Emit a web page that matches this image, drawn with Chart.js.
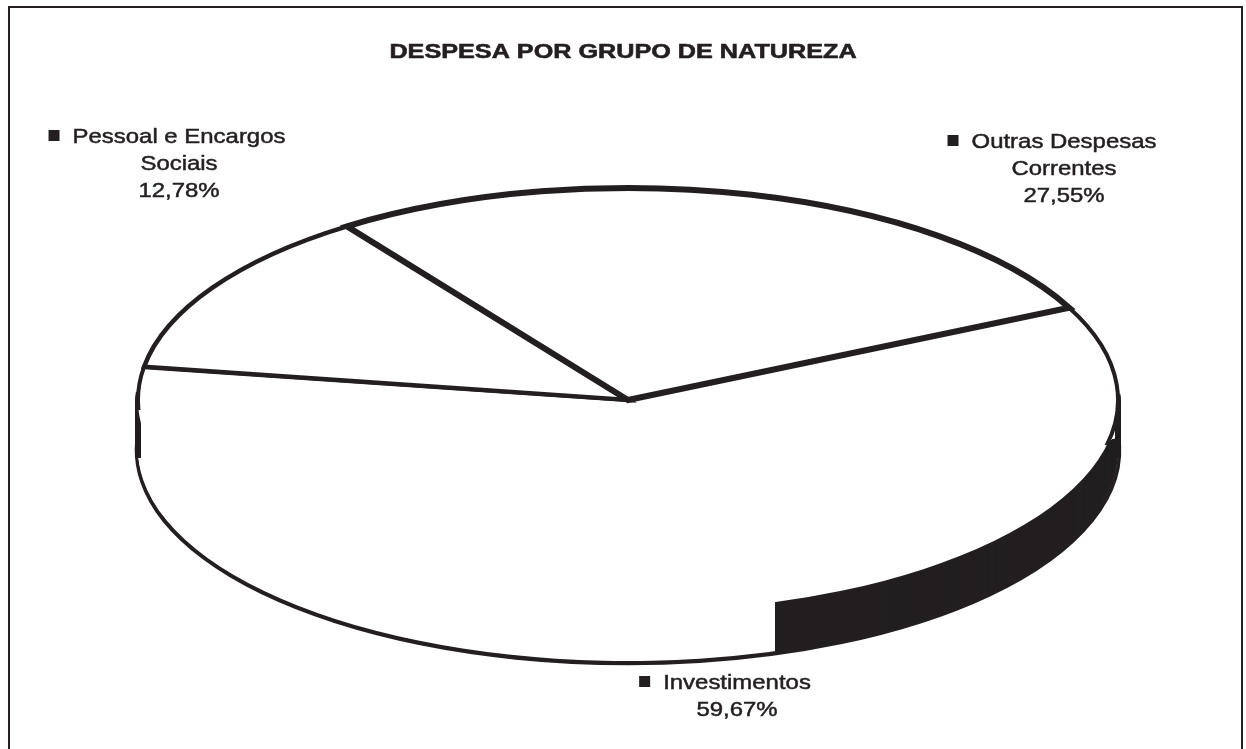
<!DOCTYPE html>
<html><head><meta charset="utf-8">
<script src="https://cdn.jsdelivr.net/npm/chart.js@4/dist/chart.umd.min.js"></script>
<style>html,body{margin:0;padding:0;background:#fff;overflow:hidden}</style>
</head><body>
<canvas id="c" width="1246" height="749"></canvas>
<script>
// ---- data ----
const TITLE = 'DESPESA POR GRUPO DE NATUREZA';
const categories = [['Pessoal e Encargos', 'Sociais'], ['Outras Despesas', 'Correntes'], ['Investimentos']];
const values = [12.78, 27.55, 59.67];

// ---- style / layout ----
const INK = '#231f20';
const FONT = '"Liberation Sans", Arial, sans-serif';
const GEOM = { cx: 628, cy: 400, rx: 490, ry: 212, depth: 50 };
const LABEL_POS = [[179, 143], [1064, 148], [737, 689]];
const LINE_H = 27;
const HS_LABEL = 1.14, HS_TITLE = 1.2;

function fmtPct(v) { return v.toFixed(2).replace('.', ',') + '%'; }

const pie3d = {
  id: 'pie3d',
  beforeDraw(chart) {
    const ctx = chart.ctx;
    ctx.save();
    ctx.fillStyle = '#fff';
    ctx.fillRect(0, 0, chart.width, chart.height);
    ctx.strokeStyle = INK;
    ctx.lineWidth = 2;
    ctx.strokeRect(9, 7, 1233, 800);
    ctx.restore();
  },
  beforeDatasetsDraw(chart) {
    const ctx = chart.ctx;
    const arcs = chart.getDatasetMeta(0).data;
    const a0 = arcs[0];
    const R = a0.outerRadius, cx = a0.x, cy = a0.y;
    const sx = GEOM.rx / R, sy = GEOM.ry / R;
    // stroke in device space so line widths stay uniform on the squashed ellipse
    const protoStroke = CanvasRenderingContext2D.prototype.stroke;
    ctx.stroke = function () {
      this.save(); this.setTransform(1, 0, 0, 1, 0, 0); protoStroke.call(this); this.restore();
    };
    const layer = (off, idxs, over, clip) => {
      ctx.save();
      if (clip) { ctx.beginPath(); clip(ctx); ctx.clip(); }
      ctx.translate(GEOM.cx, GEOM.cy + off);
      ctx.scale(sx, sy);
      ctx.translate(-cx, -cy);
      idxs.forEach(i => {
        const arc = arcs[i];
        const saved = arc.options;
        arc.options = Object.assign({}, saved, over || {});
        arc.draw(ctx);
        arc.options = saved;
      });
      ctx.restore();
    };
    const D = GEOM.depth;
    const shadeClip = c => {
      c.moveTo(775, 560); c.lineTo(1140, 430); c.lineTo(1140, 720); c.lineTo(775, 720); c.closePath();
    };
    const edgeClip = c => {
      c.rect(GEOM.cx - GEOM.rx - 6, GEOM.cy - 8, 9, D + 16);
      c.rect(GEOM.cx + GEOM.rx - 3, GEOM.cy - 6, 9, D + 14);
    };
    const invBorderClip = c => { c.rect(0, 0, GEOM.cx, GEOM.cy + 10); c.rect(GEOM.cx, 0, 1246 - GEOM.cx, 445); };
    // bottom outline of the side wall
    layer(D, [2], { backgroundColor: '#fff', borderWidth: 6.5 });
    for (let o = D - 1; o >= 1; o--) {
      layer(o, [2], { backgroundColor: '#fff', borderWidth: 0 });
      layer(o, [2], { backgroundColor: '#fff', borderWidth: 5 }, edgeClip);
    }
    for (let o = D; o >= 1; o--) {
      layer(o, [2], { backgroundColor: INK, borderWidth: 0 }, shadeClip);
    }
    // top face
    layer(0, [2], { borderWidth: 0 });
    layer(0, [2], {}, invBorderClip);
    layer(0, [0]);
    layer(0, [1]);
    delete ctx.stroke;
    return false;
  },
  afterDraw(chart) {
    const ctx = chart.ctx;
    ctx.save();
    ctx.fillStyle = INK;
    ctx.strokeStyle = INK;
    ctx.textBaseline = 'alphabetic';
    ctx.textAlign = 'center';
    const txt = (t, x, y, hs, sw) => {
      ctx.save(); ctx.translate(x, y); ctx.scale(hs, 1);
      ctx.fillText(t, 0, 0);
      ctx.lineWidth = sw; ctx.strokeText(t, 0, 0);
      ctx.restore();
    };
    // title
    ctx.font = 'bold 21px ' + FONT;
    txt(TITLE, 623, 58, HS_TITLE, 0.6);
    // labels
    ctx.font = '21px ' + FONT;
    categories.forEach((lines, i) => {
      const all = lines.concat([fmtPct(values[i])]);
      const [x, y0] = LABEL_POS[i];
      all.forEach((t, j) => {
        const y = y0 + j * LINE_H;
        txt(t, x, y, HS_LABEL, 0.5);
        if (j === 0) {
          const w = ctx.measureText(t).width * HS_LABEL;
          ctx.fillRect(x - w / 2 - 24, y - 13, 11, 11);
        }
      });
    });
    ctx.restore();
  }
};

new Chart(document.getElementById('c'), {
  type: 'pie',
  data: {
    labels: categories,
    datasets: [{
      data: values,
      backgroundColor: '#ffffff',
      borderColor: INK,
      borderWidth: [4.5, 6, 4],
      borderJoinStyle: 'miter'
    }]
  },
  options: {
    responsive: false,
    devicePixelRatio: 1,
    animation: false,
    rotation: -81,
    events: [],
    layout: { padding: 0 },
    plugins: { legend: { display: false }, tooltip: { enabled: false }, title: { display: false } }
  },
  plugins: [pie3d]
});
</script>
</body></html>
